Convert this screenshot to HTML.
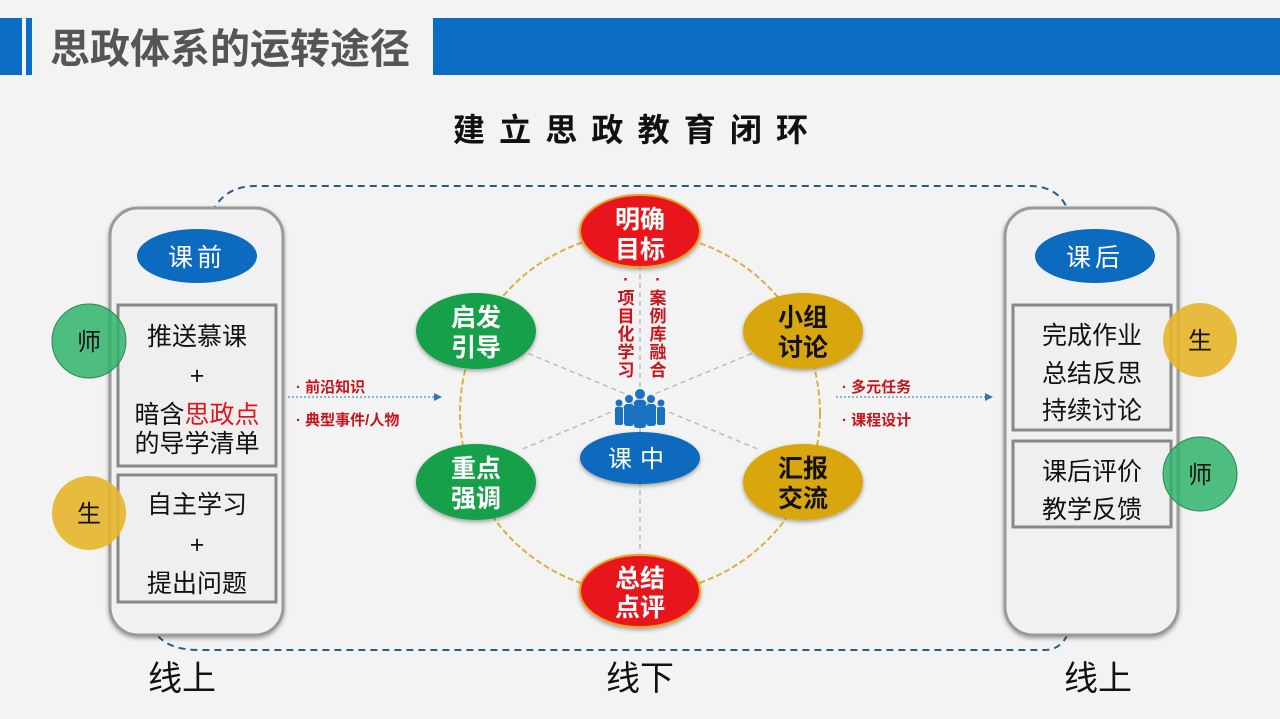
<!DOCTYPE html>
<html><head><meta charset="utf-8"><style>
html,body{margin:0;padding:0;background:#f3f3f3;}
svg{display:block;font-family:"Liberation Sans","Noto Sans CJK SC",sans-serif;}
</style></head><body>
<svg width="1280" height="719" viewBox="0 0 1280 719" xmlns="http://www.w3.org/2000/svg">
<defs>
<filter id="sh" x="-20%" y="-20%" width="140%" height="140%"><feDropShadow dx="0" dy="2" stdDeviation="2" flood-color="#000" flood-opacity="0.35"/></filter>
</defs>
<rect width="1280" height="719" fill="#f3f3f3"/>
<rect x="0" y="18" width="22" height="57" fill="#0a6cc2"/>
<rect x="26" y="18" width="6" height="57" fill="#0a6cc2"/>
<text x="50" y="63" font-size="41" font-weight="bold" fill="#555" textLength="360" lengthAdjust="spacingAndGlyphs">思政体系的运转途径</text>
<rect x="433" y="18" width="847" height="57" fill="#0a6cc2"/>
<text x="453" y="141" font-size="32" font-weight="bold" fill="#111" textLength="355">建立思政教育闭环</text>
<path d="M212 212 Q225 186 255 186 L1030 186 Q1058 186 1068 210" fill="none" stroke="#2a5d8a" stroke-width="2" stroke-dasharray="7,5"/>
<path d="M158 636 Q170 650 200 650 L1045 650 Q1060 650 1068 634" fill="none" stroke="#2a5d8a" stroke-width="2" stroke-dasharray="7,5"/>
<rect x="110" y="208" width="173" height="427" rx="28" fill="#f1f1f1" stroke="#9a9a9a" stroke-width="3" filter="url(#sh)"/>
<ellipse cx="197" cy="256" rx="60" ry="27" fill="#0d6bbf"/>
<text x="197" y="266" font-size="25" fill="#fff" text-anchor="middle" letter-spacing="4">课前</text>
<rect x="118" y="305" width="158" height="161" fill="#efefef" stroke="#888" stroke-width="3"/>
<rect x="118" y="475" width="158" height="127" fill="#efefef" stroke="#888" stroke-width="3"/>
<g font-size="25" fill="#111" text-anchor="middle">
<text x="197" y="345">推送慕课</text>
<text x="197" y="384">+</text>
<text x="197" y="423">暗含<tspan fill="#e0161d">思政点</tspan></text>
<text x="197" y="452">的导学清单</text>
<text x="197" y="513">自主学习</text>
<text x="197" y="553">+</text>
<text x="197" y="592">提出问题</text>
</g>
<circle cx="89" cy="341" r="37" fill="#2fb46a" fill-opacity="0.85" stroke="#2a8a55" stroke-width="1"/>
<text x="89" y="350" font-size="24" fill="#111" text-anchor="middle">师</text>
<circle cx="89" cy="513" r="37" fill="#e6b52a" fill-opacity="0.9"/>
<text x="89" y="522" font-size="24" fill="#111" text-anchor="middle">生</text>
<rect x="1005" y="208" width="173" height="427" rx="28" fill="#f1f1f1" stroke="#9a9a9a" stroke-width="3" filter="url(#sh)"/>
<ellipse cx="1095" cy="256" rx="60" ry="27" fill="#0d6bbf"/>
<text x="1095" y="266" font-size="25" fill="#fff" text-anchor="middle" letter-spacing="4">课后</text>
<rect x="1013" y="305" width="158" height="125" fill="#efefef" stroke="#888" stroke-width="3"/>
<rect x="1013" y="441" width="158" height="86" fill="#efefef" stroke="#888" stroke-width="3"/>
<g font-size="25" fill="#111" text-anchor="middle">
<text x="1092" y="344">完成作业</text>
<text x="1092" y="382">总结反思</text>
<text x="1092" y="419">持续讨论</text>
<text x="1092" y="480">课后评价</text>
<text x="1092" y="518">教学反馈</text>
</g>
<circle cx="1200" cy="340" r="37" fill="#e6b52a" fill-opacity="0.9"/>
<text x="1200" y="349" font-size="24" fill="#111" text-anchor="middle">生</text>
<circle cx="1200" cy="474" r="37" fill="#2fb46a" fill-opacity="0.85" stroke="#2a8a55" stroke-width="1"/>
<text x="1200" y="483" font-size="24" fill="#111" text-anchor="middle">师</text>
<g font-size="34" fill="#111" text-anchor="middle">
<text x="182" y="690">线上</text>
<text x="640" y="690">线下</text>
<text x="1098" y="690">线上</text>
</g>
<line x1="288" y1="397" x2="436" y2="397" stroke="#4a8ac0" stroke-width="1.2" stroke-dasharray="2,2"/>
<polygon points="442,397 434,393 434,401" fill="#2d78b8"/>
<line x1="836" y1="397" x2="986" y2="397" stroke="#4a8ac0" stroke-width="1.2" stroke-dasharray="2,2"/>
<polygon points="993,397 985,393 985,401" fill="#2d78b8"/>
<g font-size="15" font-weight="bold" fill="#c8141c">
<text x="296" y="392">· 前沿知识</text>
<text x="296" y="425">· 典型事件/人物</text>
<text x="842" y="392">· 多元任务</text>
<text x="842" y="425">· 课程设计</text>
</g>
<circle cx="640" cy="413" r="180" fill="none" stroke="#d9b23a" stroke-width="2" stroke-dasharray="6,3"/>
<g stroke="#bbb" stroke-width="1.5" stroke-dasharray="5,4">
<line x1="640" y1="265" x2="640" y2="560"/>
<line x1="520" y1="350" x2="760" y2="450"/>
<line x1="760" y1="350" x2="520" y2="450"/>
</g>
<g filter="url(#sh)">
<ellipse cx="640" cy="231" rx="60" ry="36" fill="#e8141a" stroke="#f0a020" stroke-width="2"/>
<ellipse cx="640" cy="591" rx="60" ry="36" fill="#e8141a" stroke="#f0a020" stroke-width="2"/>
<ellipse cx="476" cy="331" rx="60" ry="38" fill="#14a04a"/>
<ellipse cx="476" cy="482" rx="60" ry="38" fill="#14a04a"/>
<ellipse cx="803" cy="331" rx="60" ry="38" fill="#d9a70a"/>
<ellipse cx="803" cy="482" rx="60" ry="38" fill="#d9a70a"/>
<ellipse cx="640" cy="458" rx="60" ry="26" fill="#0d6bbf"/>
</g>
<g font-size="25" font-weight="bold" text-anchor="middle">
<text x="640" y="228" fill="#fff">明确</text><text x="640" y="258" fill="#fff">目标</text>
<text x="640" y="587" fill="#fff">总结</text><text x="640" y="616" fill="#fff">点评</text>
<text x="476" y="326" fill="#fff">启发</text><text x="476" y="356" fill="#fff">引导</text>
<text x="476" y="477" fill="#fff">重点</text><text x="476" y="507" fill="#fff">强调</text>
<text x="803" y="326" fill="#111">小组</text><text x="803" y="356" fill="#111">讨论</text>
<text x="803" y="477" fill="#111">汇报</text><text x="803" y="507" fill="#111">交流</text>
</g>
<text x="640" y="467" font-size="24" fill="#fff" text-anchor="middle" letter-spacing="8">课中</text>
<g font-size="17" font-weight="bold" fill="#c8141c" text-anchor="middle">
<text x="626" y="285">·</text><text x="626" y="304">项</text><text x="626" y="322">目</text><text x="626" y="340">化</text><text x="626" y="358">学</text><text x="626" y="376">习</text>
<text x="658" y="285">·</text><text x="658" y="304">案</text><text x="658" y="322">例</text><text x="658" y="340">库</text><text x="658" y="358">融</text><text x="658" y="376">合</text>
</g>
<g fill="#1a73c0">
<circle cx="640" cy="394" r="5"/><rect x="634" y="400" width="12" height="28" rx="3"/>
<circle cx="629" cy="399" r="4"/><rect x="624" y="404" width="10" height="22" rx="3"/>
<circle cx="651" cy="399" r="4"/><rect x="646" y="404" width="10" height="22" rx="3"/>
<circle cx="619" cy="403" r="3.5"/><rect x="615" y="407" width="8" height="18" rx="2"/>
<circle cx="661" cy="403" r="3.5"/><rect x="657" y="407" width="8" height="18" rx="2"/>
</g>
</svg>
</body></html>
